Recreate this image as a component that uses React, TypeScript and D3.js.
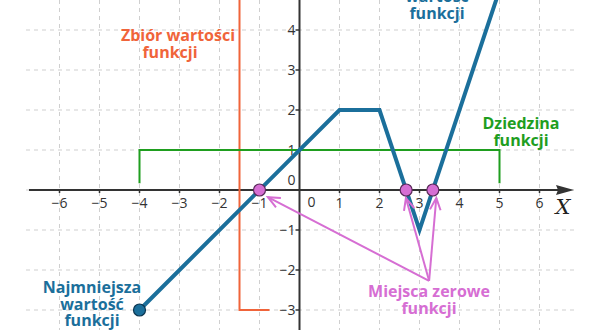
import * as d3 from "d3";

// function graph: vertices of the broken line
const fx = [-4, 1, 2, 3, 5];
const fy = [-3, 2, 2, -1, 5];

const zeros = [-1, 8 / 3, 10 / 3];
const minPoint = { x: -4, y: -3 };

const xTicks = [-6, -5, -4, -3, -2, -1, 1, 2, 3, 4, 5, 6];
const yTicks = [-3, -2, -1, 1, 2, 3, 4];
const gridX = [-6, -5, -4, -3, -2, -1, 0, 1, 2, 3, 4, 5, 6];
const gridY = [-3, -2, -1, 0, 1, 2, 3, 4];

// domain [-4, 5] and range [-3, 5] markers
const domainLine = { from: -4, to: 5, level: 1, foot: 0.17 };
const rangeLine = { at: -1.5, top: 5, bottom: -3, foot: -0.75 };

// arrows for the zeros label (data units)
const arrowFrom = { x: 3.24, y: -2.27 };
const arrowTo = [
  { x: -0.79, y: -0.18 },
  { x: 2.66, y: -0.2 },
  { x: 3.42, y: -0.2 },
];

const BLUE = "#1b6f9b";
const ORANGE = "#f0643a";
const GREEN = "#1f9e1f";
const PINK = "#d66ed3";

const W = 600;
const H = 330;

export default function App() {
  const x = d3.scaleLinear().domain([-6, 6]).range([59.5, 539.5]);
  const y = d3.scaleLinear().domain([-3, 4]).range([310, 30]);

  const line = d3
    .line<number>()
    .x((d) => x(fx[d]))
    .y((d) => y(fy[d]));

  const arrowHead = (tx: number, ty: number, fx0: number, fy0: number) => {
    const ang = Math.atan2(ty - fy0, tx - fx0);
    const len = 13;
    const spread = 0.42;
    const a1 = ang + Math.PI - spread;
    const a2 = ang + Math.PI + spread;
    return `M${tx + len * Math.cos(a1)},${ty + len * Math.sin(a1)}L${tx},${ty}L${tx + len * Math.cos(a2)},${ty + len * Math.sin(a2)}`;
  };

  const font = "'Open Sans', 'Noto Sans', sans-serif";

  return (
    <svg
      width={W}
      height={H}
      style={{ position: "absolute", left: 0, top: 0, background: "#fff" }}
      fontFamily={font}
    >
      {/* grid */}
      <g stroke="#cfcfcf" strokeWidth={1} strokeDasharray="4,4">
        {gridX.map((v) => (
          <line key={"gx" + v} x1={x(v)} x2={x(v)} y1={0} y2={H} />
        ))}
        {gridY.map((v) => (
          <line key={"gy" + v} x1={26} x2={575} y1={y(v)} y2={y(v)} />
        ))}
      </g>

      {/* axes */}
      <line x1={29} x2={566} y1={y(0)} y2={y(0)} stroke="#333" strokeWidth={2} />
      <path d={`M${574},${y(0)}L${556},${y(0) - 5}L${558},${y(0)}L${556},${y(0) + 5}Z`} fill="#333" />
      <line x1={x(0)} x2={x(0)} y1={0} y2={H} stroke="#333" strokeWidth={2} />
      <g stroke="#333" strokeWidth={1.5}>
        {xTicks.map((v) => (
          <line key={"tx" + v} x1={x(v)} x2={x(v)} y1={y(0)} y2={y(0) + 3} />
        ))}
        {yTicks.map((v) => (
          <line key={"ty" + v} x1={x(0) - 4} x2={x(0)} y1={y(v)} y2={y(v)} />
        ))}
      </g>
      <g fontSize={14} fill="#333">
        {xTicks.map((v) => (
          <text key={"lx" + v} x={x(v)} y={y(0) + 18} textAnchor="middle">
            {v < 0 ? "\u2212" + Math.abs(v) : v}
          </text>
        ))}
        {yTicks.map((v) => (
          <text key={"ly" + v} x={x(0) - 4} y={y(v) + 5} textAnchor="end">
            {v < 0 ? "\u2212" + Math.abs(v) : v}
          </text>
        ))}
        <text x={x(0) - 8} y={y(0) - 5} textAnchor="middle">0</text>
        <text x={x(0) + 12} y={y(0) + 17} textAnchor="middle">0</text>
      </g>
      <text
        x={563}
        y={214}
        fontFamily="'DejaVu Serif', 'Liberation Serif', serif"
        fontStyle="italic"
        fontSize={21}
        fill="#222"
        textAnchor="middle"
      >
        X
      </text>

      {/* range of the function */}
      <path
        d={`M${x(rangeLine.at)},${y(rangeLine.top)}L${x(rangeLine.at)},${y(rangeLine.bottom)}L${x(rangeLine.foot)},${y(rangeLine.bottom)}`}
        fill="none"
        stroke={ORANGE}
        strokeWidth={2}
      />

      {/* domain of the function */}
      <path
        d={`M${x(domainLine.from)},${y(domainLine.foot)}L${x(domainLine.from)},${y(domainLine.level)}L${x(domainLine.to)},${y(domainLine.level)}L${x(domainLine.to)},${y(domainLine.foot)}`}
        fill="none"
        stroke={GREEN}
        strokeWidth={2}
      />

      {/* function */}
      <path d={line(d3.range(fx.length)) ?? ""} fill="none" stroke={BLUE} strokeWidth={4} strokeLinejoin="miter" />

      {/* arrows */}
      <g stroke={PINK} strokeWidth={2} fill="none">
        {arrowTo.map((t, i) => (
          <g key={"ar" + i}>
            <line x1={x(arrowFrom.x)} y1={y(arrowFrom.y)} x2={x(t.x)} y2={y(t.y)} />
            <path d={arrowHead(x(t.x), y(t.y), x(arrowFrom.x), y(arrowFrom.y))} />
          </g>
        ))}
      </g>

      {/* points */}
      {zeros.map((z, i) => (
        <circle key={"z" + i} cx={x(z)} cy={y(0)} r={6} fill={PINK} stroke="#5a2a5a" strokeWidth={1.2} />
      ))}
      <circle cx={x(minPoint.x)} cy={y(minPoint.y)} r={6} fill={BLUE} stroke="#0b3550" strokeWidth={1.2} />

      {/* labels */}
      <g fontWeight="bold" fontSize={16} textAnchor="middle">
        <text fill={ORANGE} x={178} y={41}>Zbiór wartości</text>
        <text fill={ORANGE} x={170} y={58}>funkcji</text>
        <text fill={GREEN} x={521} y={129}>Dziedzina</text>
        <text fill={GREEN} x={521} y={146}>funkcji</text>
        <text fill={BLUE} x={92} y={293}>Najmniejsza</text>
        <text fill={BLUE} x={92} y={310}>wartość</text>
        <text fill={BLUE} x={92} y={326}>funkcji</text>
        <text fill={BLUE} x={437} y={2}>wartość</text>
        <text fill={BLUE} x={437} y={19}>funkcji</text>
        <text fill={PINK} x={429} y={297}>Miejsca zerowe</text>
        <text fill={PINK} x={429} y={314}>funkcji</text>
      </g>
    </svg>
  );
}
